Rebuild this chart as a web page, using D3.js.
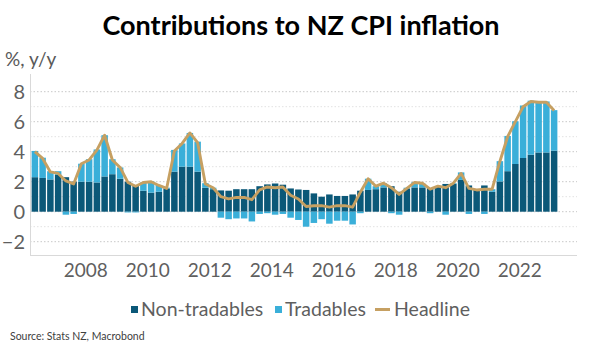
<!DOCTYPE html>
<html>
<head>
<meta charset="utf-8">
<script src="https://cdn.jsdelivr.net/npm/d3@7"></script>
<style>
  html, body { margin: 0; padding: 0; background: #fff; }
  svg { display: block; }
  text { font-family: Lato, "Open Sans", sans-serif; }
</style>
</head>
<body>
<svg id="chart" width="600" height="353"></svg>
<script>
const quarters = [
  "2006Q2","2006Q3","2006Q4",
  "2007Q1","2007Q2","2007Q3","2007Q4",
  "2008Q1","2008Q2","2008Q3","2008Q4",
  "2009Q1","2009Q2","2009Q3","2009Q4",
  "2010Q1","2010Q2","2010Q3","2010Q4",
  "2011Q1","2011Q2","2011Q3","2011Q4",
  "2012Q1","2012Q2","2012Q3","2012Q4",
  "2013Q1","2013Q2","2013Q3","2013Q4",
  "2014Q1","2014Q2","2014Q3","2014Q4",
  "2015Q1","2015Q2","2015Q3","2015Q4",
  "2016Q1","2016Q2","2016Q3","2016Q4",
  "2017Q1","2017Q2","2017Q3","2017Q4",
  "2018Q1","2018Q2","2018Q3","2018Q4",
  "2019Q1","2019Q2","2019Q3","2019Q4",
  "2020Q1","2020Q2","2020Q3","2020Q4",
  "2021Q1","2021Q2","2021Q3","2021Q4",
  "2022Q1","2022Q2","2022Q3","2022Q4",
  "2023Q1"
];

const nonTradables = [
  2.30, 2.25, 2.15,
  2.45, 2.30, 2.00, 2.00,
  2.00, 1.95, 2.35, 2.50,
  2.20, 2.00, 1.75, 1.40,
  1.27, 1.33, 1.55, 2.67,
  3.00, 3.00, 2.67, 1.60,
  1.50, 1.42, 1.40, 1.50,
  1.50, 1.50, 1.70, 1.82,
  1.88, 1.80, 1.55, 1.48,
  1.45, 1.22, 1.00, 1.15,
  1.05, 1.05, 1.15, 1.40,
  1.45, 1.50, 1.62, 1.70,
  1.33, 1.55, 1.62, 1.62,
  1.58, 1.65, 1.85, 1.85,
  2.12, 1.75, 1.45, 1.75,
  1.33, 2.02, 2.70, 3.18,
  3.58, 3.80, 3.95, 3.95,
  4.07
];

const tradables = [
  1.75, 1.35, 0.55,
  0.25, -0.20, -0.15, 1.20,
  1.50, 2.20, 2.75, 1.00,
  0.75, -0.05, -0.05, 0.55,
  0.75, 0.45, 0.05, 1.45,
  1.55, 2.25, 2.00, 0.30,
  0.10, -0.40, -0.50, -0.45,
  -0.45, -0.65, -0.15, -0.10,
  -0.20, -0.15, -0.40, -0.55,
  -1.00, -0.75, -0.50, -0.80,
  -0.60, -0.60, -0.85, -0.10,
  0.75, 0.20, 0.28, -0.10,
  -0.20, 0.05, 0.35, 0.25,
  -0.10, 0.05, -0.20, 0.05,
  0.50, -0.15, 0.03, -0.15,
  0.17, 1.35, 2.35, 2.85,
  3.50, 3.60, 3.40, 3.40,
  2.70
];

const headline = [
  4.00, 3.55, 2.65,
  2.55, 2.05, 1.85, 3.20,
  3.45, 4.10, 5.10, 3.45,
  2.95, 1.95, 1.70, 1.95,
  2.00, 1.75, 1.55, 4.05,
  4.55, 5.25, 4.60, 1.85,
  1.60, 1.00, 0.85, 0.95,
  0.95, 0.80, 1.45, 1.65,
  1.60, 1.65, 1.10, 0.85,
  0.35, 0.40, 0.40, 0.30,
  0.40, 0.40, 0.30, 1.30,
  2.20, 1.70, 1.90, 1.60,
  1.15, 1.55, 1.95, 1.90,
  1.50, 1.70, 1.60, 1.90,
  2.55, 1.55, 1.45, 1.50,
  1.50, 3.35, 5.00, 6.00,
  7.00, 7.35, 7.30, 7.30,
  6.75
];

const yearTicks = [2008, 2010, 2012, 2014, 2016, 2018, 2020, 2022];
const yTicks = [-2, 0, 2, 4, 6, 8];
const gridValues = [-2, -1, 0, 1, 2, 3, 4, 5, 6, 7, 8];
const seriesNames = ["Non-tradables", "Tradables", "Headline"];

const colors = { nt: "#0b5878", t: "#3aafd9", h: "#c6a062" };
const plot = { left: 30, right: 577, top: 74, bottom: 255 };

const svg = d3.select("#chart");

// title
svg.append("text")
  .attr("x", 301).attr("y", 35)
  .attr("text-anchor", "middle")
  .attr("font-size", 27).attr("font-weight", 700)
  .attr("fill", "#000")
  .text("Contributions to NZ CPI inflation");

// y unit
svg.append("text")
  .attr("x", 5).attr("y", 66)
  .attr("font-size", 19).attr("fill", "#595959")
  .text("%, y/y");

const qStart = q => +q.slice(0, 4) + (+q.slice(5) - 1) / 4;

const x = d3.scaleLinear().domain([2006.25, 2023.85]).range([31, 576.6]);
const y = d3.scaleLinear().domain([-3, 9]).range([256.7, 76.7]);

const pitch = x(2006.5) - x(2006.25);
const bw = pitch * 0.84;

// gridlines
svg.append("g").selectAll("line").data(gridValues).join("line")
  .attr("x1", plot.left).attr("x2", plot.right)
  .attr("y1", d => y(d)).attr("y2", d => y(d))
  .attr("stroke", d => d % 2 === 0 ? "#c8c8c8" : "#e2e2e2")
  .attr("stroke-width", 1)
  .attr("stroke-dasharray", "1.5,2");

// axes frame
svg.append("line").attr("x1", plot.left + 0.5).attr("x2", plot.left + 0.5)
  .attr("y1", plot.top).attr("y2", plot.bottom)
  .attr("stroke", "#d9d9d9");
svg.append("line").attr("x1", plot.left).attr("x2", plot.right)
  .attr("y1", plot.bottom + 0.5).attr("y2", plot.bottom + 0.5)
  .attr("stroke", "#d9d9d9");

const data = quarters.map((q, i) => ({
  q, s: qStart(q), nt: nonTradables[i], t: tradables[i], h: headline[i]
}));

function segs(d) {
  let pos = 0, neg = 0;
  const out = [];
  [["nt", d.nt], ["t", d.t]].forEach(([k, v]) => {
    if (v >= 0) { out.push({ k, y0: pos, y1: pos + v }); pos += v; }
    else { out.push({ k, y0: neg + v, y1: neg }); neg += v; }
  });
  return out.map(o => Object.assign(o, { s: d.s }));
}

const barsG = svg.append("g");
barsG.selectAll("rect").data(data.flatMap(segs)).join("rect")
  .attr("x", d => x(d.s + 0.125) - bw / 2)
  .attr("width", bw)
  .attr("y", d => y(d.y1))
  .attr("height", d => Math.max(0, y(d.y0) - y(d.y1)))
  .attr("fill", d => colors[d.k]);

// headline line
const line = d3.line().x(d => x(d.s + 0.125)).y(d => y(d.h)).curve(d3.curveLinear);
svg.append("path").datum(data)
  .attr("d", line)
  .attr("fill", "none")
  .attr("stroke", colors.h)
  .attr("stroke-width", 2.9)
  .attr("stroke-linejoin", "round");

// y axis labels
const yAxis = d3.axisLeft(y).tickValues(yTicks).tickSize(0).tickPadding(0)
  .tickFormat(d3.format("d"));
const gy = svg.append("g").attr("transform", "translate(25,0)").call(yAxis);
gy.select(".domain").remove();
gy.selectAll("text").attr("font-size", 20).attr("fill", "#5f5f5f")
  .attr("font-family", "Lato, sans-serif").attr("dy", "0.35em");

// x axis labels
const xAxis = d3.axisBottom(x).tickValues(yearTicks).tickSize(0).tickPadding(0)
  .tickFormat(d3.format("d"));
const gx = svg.append("g").attr("transform", "translate(0,263)").call(xAxis);
gx.select(".domain").remove();
gx.selectAll("text").attr("font-size", 19).attr("fill", "#5f5f5f")
  .attr("font-family", "Lato, sans-serif").attr("dy", "0.71em");

// legend
const lg = svg.append("g");
const legendItems = [
  { name: seriesNames[0], type: "sq", color: colors.nt, mx: 131, tx: 141 },
  { name: seriesNames[1], type: "sq", color: colors.t, mx: 275, tx: 285 },
  { name: seriesNames[2], type: "ln", color: colors.h, mx: 375, tx: 394 }
];
legendItems.forEach(it => {
  if (it.type === "sq") {
    lg.append("rect").attr("x", it.mx).attr("y", 306).attr("width", 7).attr("height", 7)
      .attr("fill", it.color);
  } else {
    lg.append("line").attr("x1", it.mx).attr("x2", it.mx + 15)
      .attr("y1", 309.5).attr("y2", 309.5)
      .attr("stroke", it.color).attr("stroke-width", 3);
  }
  lg.append("text").attr("x", it.tx).attr("y", 316)
    .attr("font-size", 19.5).attr("fill", "#5f5f5f").text(it.name);
});

// source
svg.append("text").attr("x", 10).attr("y", 340)
  .attr("font-size", 10.5).attr("fill", "#404040")
  .text("Source: Stats NZ, Macrobond");
</script>
</body>
</html>
